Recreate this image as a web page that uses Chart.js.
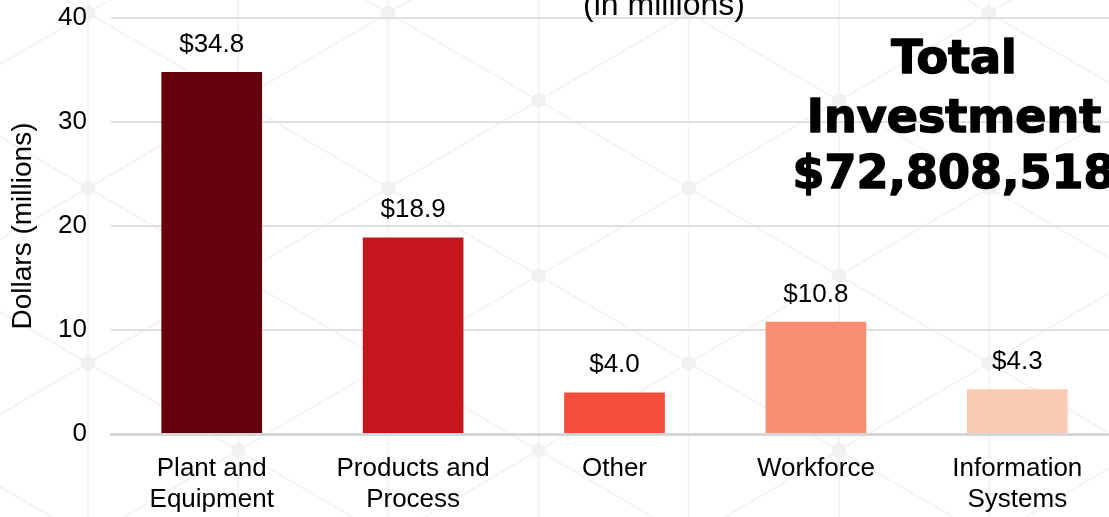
<!DOCTYPE html>
<html>
<head>
<meta charset="utf-8">
<script src="https://cdn.jsdelivr.net/npm/chart.js@4/dist/chart.umd.min.js"></script>
<style>
  html, body { margin: 0; padding: 0; background: #ffffff; overflow: hidden; }
  #myfirstchart { display: block; }
</style>
</head>
<body>
<canvas id="myfirstchart" width="1119" height="517"></canvas>
<script>
// values (millions of dollars)
const categories = [
  ["Plant and", "Equipment"],
  ["Products and", "Process"],
  ["Other"],
  ["Workforce"],
  ["Information", "Systems"]
];
const investment = [34.8, 18.9, 4.0, 10.8, 4.3];
const barColors = ['#67000d', '#c4161c', '#f34e39', '#f98d6f', '#fbcab5'];
const yTicks = [0, 10, 20, 30, 40];

const titleText = '(in millions)';
const totalLines = ['Total', 'Investment', '$72,808,518'];

Chart.defaults.color = '#000000';
Chart.defaults.font.family = '"Liberation Sans", Arial, sans-serif';
Chart.defaults.font.size = 26;

// faint network pattern behind the chart
const backdrop = {
  id: 'backdrop',
  beforeDraw(chart) {
    const ctx = chart.ctx;
    const w = chart.width, h = chart.height;
    const dx = 150.2, dy = 175, x0 = 88, y0 = 13;
    const slope = (dy / 2) / dx;
    ctx.save();
    ctx.strokeStyle = '#f4f4f4';
    ctx.lineWidth = 2;
    for (let i = -1; i < 9; i++) {
      const x = x0 + i * dx;
      ctx.beginPath();
      ctx.moveTo(x, 0);
      ctx.lineTo(x, h);
      ctx.stroke();
    }
    for (let k = -10; k < 10; k++) {
      const ya = y0 + k * dy;
      ctx.beginPath();
      ctx.moveTo(0, ya + slope * (0 - x0));
      ctx.lineTo(w, ya + slope * (w - x0));
      ctx.stroke();
      ctx.beginPath();
      ctx.moveTo(0, ya - slope * (0 - x0));
      ctx.lineTo(w, ya - slope * (w - x0));
      ctx.stroke();
    }
    ctx.fillStyle = '#f1f1f1';
    for (let i = -1; i < 9; i++) {
      const x = x0 + i * dx;
      const off = (i % 2 === 0) ? 0 : dy / 2;
      for (let j = -1; j < 4; j++) {
        const y = y0 + off + j * dy;
        ctx.beginPath();
        for (let a = 0; a < 6; a++) {
          const ang = Math.PI / 6 + a * Math.PI / 3;
          ctx.lineTo(x + 8 * Math.cos(ang), y + 8 * Math.sin(ang));
        }
        ctx.closePath();
        ctx.fill();
      }
    }
    ctx.restore();
  }
};

// values above the bars
const barLabels = {
  id: 'barLabels',
  afterDatasetsDraw(chart) {
    const ctx = chart.ctx;
    const meta = chart.getDatasetMeta(0);
    ctx.save();
    ctx.font = '26px "Liberation Sans", Arial, sans-serif';
    ctx.fillStyle = '#000000';
    ctx.textAlign = 'center';
    ctx.textBaseline = 'alphabetic';
    meta.data.forEach((bar, i) => {
      ctx.fillText('$' + investment[i].toFixed(1), bar.x, bar.y - 20);
    });
    ctx.restore();
  }
};

// cut-off title and the big total on the right
const extraText = {
  id: 'extraText',
  afterDraw(chart) {
    const ctx = chart.ctx;
    ctx.save();
    ctx.fillStyle = '#000000';
    ctx.textAlign = 'center';
    ctx.textBaseline = 'alphabetic';
    ctx.font = '32px "Liberation Sans", Arial, sans-serif';
    ctx.fillText(titleText, 664, 15);

    ctx.font = 'bold 46px "DejaVu Sans", sans-serif';
    ctx.strokeStyle = '#000000';
    ctx.lineWidth = 1.5;
    ctx.lineJoin = 'round';
    const base = [73, 132, 188];
    totalLines.forEach((t, i) => {
      ctx.strokeText(t, 954, base[i]);
      ctx.fillText(t, 954, base[i]);
    });
    ctx.restore();
  }
};

new Chart(
  document.getElementById('myfirstchart'),
  {
    type: 'bar',
    data: {
      labels: categories,
      datasets: [
        {
          data: investment,
          backgroundColor: barColors,
          barPercentage: 0.5,
          categoryPercentage: 1.0
        }
      ]
    },
    options: {
      responsive: false,
      animation: false,
      layout: {
        padding: { top: 18, right: 1, bottom: 0, left: 0 }
      },
      plugins: {
        legend: { display: false },
        tooltip: { enabled: false }
      },
      scales: {
        x: {
          grid: { display: false, drawTicks: false },
          border: { color: '#d6d6d6', width: 3 },
          ticks: {
            padding: 19,
            maxRotation: 0,
            autoSkip: false,
            font: { size: 26, lineHeight: 1.2 }
          },
          afterFit(scale) {
            scale.height = 83;
            scale.paddingTop = 0;
            scale.paddingBottom = 0;
          }
        },
        y: {
          min: 0,
          max: 40,
          afterBuildTicks(scale) {
            scale.ticks = yTicks.map(v => ({ value: v }));
          },
          grid: { color: '#e0e0e0', lineWidth: 2, drawTicks: false },
          border: { display: false },
          ticks: { padding: 24, font: { size: 26 } },
          title: {
            display: true,
            text: 'Dollars (millions)',
            font: { size: 28 },
            padding: { top: 6, bottom: 0 }
          },
          afterFit(scale) {
            scale.width = 111;
            scale.paddingTop = 0;
            scale.paddingBottom = 0;
          }
        }
      }
    },
    plugins: [backdrop, barLabels, extraText]
  }
);
</script>
</body>
</html>
